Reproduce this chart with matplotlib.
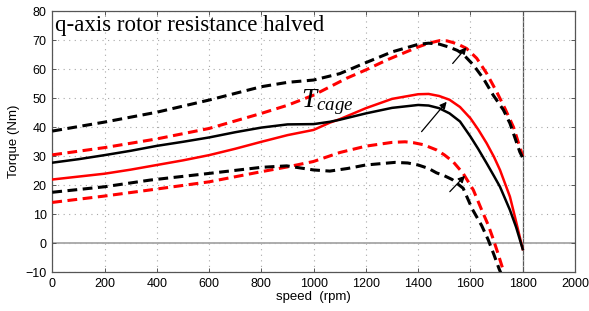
import matplotlib
matplotlib.use("Agg")
import matplotlib.pyplot as plt

plt.rcParams["mathtext.fontset"] = "custom"
plt.rcParams["mathtext.it"] = "Liberation Serif:italic"
plt.rcParams["mathtext.rm"] = "Liberation Serif"

# torque-speed curves, values
rpm_k_solid = [0, 100, 200, 300, 400, 500, 600, 700, 800, 900, 1000, 1062, 1100, 1200,
               1300, 1400, 1440, 1480, 1520, 1560, 1600, 1630, 1662, 1690, 1713, 1751,
               1775, 1800]
tq_k_solid = [27.8, 29.0, 30.4, 31.9, 33.6, 35.0, 36.5, 38.3, 39.9, 41.0, 41.1, 41.9, 42.6, 44.8,
              46.7, 47.7, 47.5, 46.6, 44.8, 42.0, 36.8, 32.5, 27.6, 23.2, 19.5, 11.5,
              5.5, -2.0]

rpm_r_solid = [0, 100, 200, 300, 400, 500, 600, 700, 800, 900, 1000, 1062, 1100, 1200,
               1300, 1400, 1440, 1480, 1520, 1560, 1600, 1630, 1662, 1690, 1713, 1751,
               1770, 1800]
tq_r_solid = [22.0, 23.0, 24.0, 25.4, 27.0, 28.6, 30.4, 32.6, 35.0, 37.3, 39.1, 41.6, 42.8, 46.6,
              49.8, 51.4, 51.5, 50.8, 49.5, 47.0, 43.1, 39.2, 34.5, 29.8, 25.3, 16.1,
              9.2, -2.0]

rpm_k_upper = [0, 200, 400, 600, 800, 900, 1000, 1100, 1200, 1300, 1400, 1440, 1480, 1520,
               1550, 1572, 1611, 1649, 1687, 1726, 1751, 1789, 1800]
tq_k_upper = [38.7, 41.8, 45.2, 49.4, 54.0, 55.5, 56.3, 58.5, 62.3, 66.0, 68.6, 69.0, 68.7, 67.6,
              66.5, 65.2, 61.5, 56.9, 51.1, 46.0, 41.4, 31.5, 29.5]

rpm_r_upper = [0, 200, 400, 600, 800, 900, 1000, 1126, 1200, 1280, 1400, 1440, 1483, 1510,
               1534, 1560, 1585, 1624, 1662, 1700, 1732, 1765, 1800]
tq_r_upper = [30.5, 33.0, 36.0, 39.6, 44.8, 47.6, 51.1, 56.9, 59.8, 63.2, 67.7, 69.0, 69.9, 69.8,
              69.2, 68.3, 67.2, 63.8, 58.6, 52.3, 46.5, 40.0, 30.0]

rpm_k_lower = [0, 200, 374, 600, 800, 897, 999, 1062, 1130, 1199, 1311, 1360, 1400, 1440,
               1470, 1500, 1530, 1572, 1607, 1643, 1668, 1689, 1710, 1720]
tq_k_lower = [17.6, 19.5, 21.8, 24.1, 26.2, 26.7, 25.3, 24.9, 25.8, 27.0, 27.9, 27.7, 27.0, 25.8,
              24.3, 23.3, 22.0, 19.0, 11.8, 6.1, 1.2, -3.7, -8.9, -11.0]

rpm_r_lower = [0, 200, 374, 600, 800, 897, 999, 1100, 1200, 1300, 1350, 1381, 1420, 1470,
               1500, 1534, 1572, 1611, 1643, 1668, 1687, 1705, 1723, 1732]
tq_r_lower = [14.1, 16.3, 18.4, 21.2, 24.7, 26.3, 28.2, 31.3, 33.5, 34.8, 35.0, 34.7, 34.0, 32.2,
              30.5, 28.1, 24.1, 18.4, 11.5, 6.3, 1.5, -3.4, -8.6, -11.0]

# arrows (tail, head) in data units
arrows = [((1532, 62.0), (1585, 67.6)),
          ((1413, 38.5), (1509, 48.8)),
          ((1521, 17.8), (1579, 23.3))]

fig = plt.figure(figsize=(5.89, 3.11), dpi=100)
ax = fig.add_axes([0.0888, 0.1244, 0.8874, 0.8393])

ax.axhline(0, color="#a0a0a0", lw=1.2, zorder=1)
ax.axvline(1800, color="#555555", lw=0.9, zorder=1)

dash = (0, (3.2, 1.8))
ax.plot(rpm_r_upper, tq_r_upper, color="red", lw=2.2, ls=dash, zorder=3)
ax.plot(rpm_r_lower, tq_r_lower, color="red", lw=2.2, ls=dash, zorder=3)
ax.plot(rpm_r_solid, tq_r_solid, color="red", lw=1.8, zorder=3)
ax.plot(rpm_k_upper, tq_k_upper, color="black", lw=2.2, ls=dash, zorder=4)
ax.plot(rpm_k_lower, tq_k_lower, color="black", lw=2.2, ls=dash, zorder=4)
ax.plot(rpm_k_solid, tq_k_solid, color="black", lw=1.8, zorder=4)

for tail, head in arrows:
    ax.annotate("", xy=head, xytext=tail,
                arrowprops=dict(arrowstyle="-|>", color="black", lw=0.9,
                                mutation_scale=10, shrinkA=0, shrinkB=0),
                zorder=5)

ax.text(12, 73.3, "q-axis rotor resistance halved", family="Liberation Serif",
        fontsize=16.5, va="baseline", ha="left")
ax.text(953, 47.0, r"$T_{cage}$", fontsize=19.5, va="baseline", ha="left")

ax.set_xlim(0, 2000)
ax.set_ylim(-10, 80)
ax.set_xticks(range(0, 2001, 200))
ax.set_yticks(range(-10, 81, 10))
ax.grid(True, ls=(0, (1, 4)), color="#a8a8a8", lw=0.8)
ax.tick_params(direction="in", length=3, width=0.7, colors="#555555",
               labelcolor="black", labelsize=9, pad=4,
               top=True, right=True)
for lbl in ax.get_xticklabels() + ax.get_yticklabels():
    lbl.set_family("Liberation Sans")
for s in ax.spines.values():
    s.set_color("#555555")
    s.set_linewidth(0.9)

ax.set_xlabel("speed  (rpm)", family="Liberation Sans", fontsize=9.5, labelpad=1)
ax.set_ylabel("Torque (Nm)", family="Liberation Sans", fontsize=9.5, labelpad=4)

fig.savefig("out.png", dpi=100)
